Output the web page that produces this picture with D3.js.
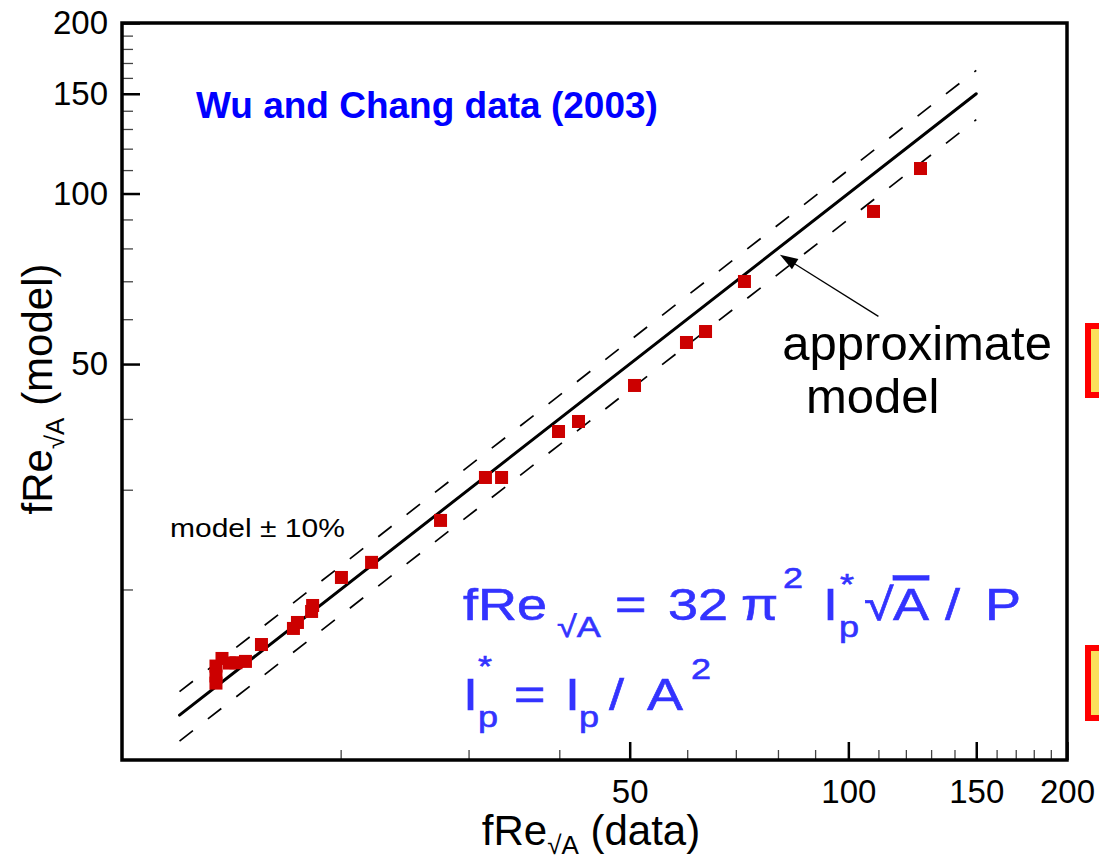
<!DOCTYPE html>
<html>
<head>
<meta charset="utf-8">
<script src="https://cdn.jsdelivr.net/npm/d3@7"></script>
<style>
  body { margin: 0; background: #fff; }
  svg { display: block; }
  text { font-family: "Liberation Sans", Arial, Helvetica, sans-serif; }
</style>
</head>
<body>
<svg id="chart" width="1099" height="861"></svg>
<script>
// fRe (data) vs fRe (model)
const dataX = [13.47, 13.47, 13.47, 13.73, 14.05, 14.35, 14.79, 15.56, 17.22, 17.44, 18.24, 18.30,
               20.05, 22.06, 27.45, 31.65, 33.31, 39.90, 42.51, 50.77, 59.86, 63.59, 71.94, 108.3, 125.7]
const dataY = [14.65, 14.07, 13.67, 15.11, 14.83, 14.85, 14.93, 15.99, 17.07, 17.49, 18.29, 18.74,
               21.00, 22.33, 26.48, 31.53, 31.53, 38.01, 39.59, 45.83, 54.58, 57.07, 69.94, 92.97, 110.7]
const modelX = [12, 150]
const band = 0.10
const majorTicks = [50, 100, 150, 200]
const minorTicks = [20, 30, 40, 60, 70, 80, 90, 110, 120, 130, 140, 160, 170, 180, 190]
const arrowFrom = [110, 60.7]
const arrowTo = [80.5, 78]

const svg = d3.select("#chart")
const plot = {left: 122, right: 1067, top: 23, bottom: 760}

const x = d3.scaleLog().domain([10, 200]).range([plot.left, plot.right])
const y = d3.scaleLog().domain([10, 200]).range([plot.bottom, plot.top])

// slide decoration at the right edge (cut off boxes)
svg.append("rect").attr("x", 1088).attr("y", 326).attr("width", 40).attr("height", 69)
  .attr("fill", "#fbe05c").attr("stroke", "#f00").attr("stroke-width", 6)
svg.append("rect").attr("x", 1088).attr("y", 648).attr("width", 40).attr("height", 70)
  .attr("fill", "#fbe05c").attr("stroke", "#f00").attr("stroke-width", 6)

// minor ticks
svg.append("g").attr("transform", `translate(0,${plot.bottom})`)
  .call(d3.axisBottom(x).tickValues(minorTicks).tickSize(-10).tickFormat(""))
  .call(g => g.select(".domain").remove())
  .call(g => g.selectAll("line").attr("stroke", "#444").attr("stroke-width", 1.3))
svg.append("g").attr("transform", `translate(${plot.left},0)`)
  .call(d3.axisLeft(y).tickValues(minorTicks).tickSize(-11).tickFormat(""))
  .call(g => g.select(".domain").remove())
  .call(g => g.selectAll("line").attr("stroke", "#444").attr("stroke-width", 1.3))

// major ticks + labels
svg.append("g").attr("transform", `translate(0,${plot.bottom})`)
  .call(d3.axisBottom(x).tickValues(majorTicks).tickSize(-18).tickPadding(20).tickFormat(d3.format("d")))
  .call(g => g.select(".domain").remove())
  .call(g => g.selectAll("line").attr("stroke", "#000").attr("stroke-width", 2.5))
  .call(g => g.selectAll("text").attr("font-size", 33).attr("fill", "#000"))
svg.append("g").attr("transform", `translate(${plot.left},0)`)
  .call(d3.axisLeft(y).tickValues(majorTicks).tickSize(-18).tickPadding(14).tickFormat(d3.format("d")))
  .call(g => g.select(".domain").remove())
  .call(g => g.selectAll("line").attr("stroke", "#000").attr("stroke-width", 2.5))
  .call(g => g.selectAll("text").attr("font-size", 33).attr("fill", "#000"))

// frame
svg.append("rect").attr("x", plot.left).attr("y", plot.top)
  .attr("width", plot.right - plot.left).attr("height", plot.bottom - plot.top)
  .attr("fill", "none").attr("stroke", "#000").attr("stroke-width", 3.5)

const line = d3.line().x(d => x(d[0])).y(d => y(d[1]))

// model and +-10% band
svg.append("path").datum(modelX.map(v => [v, v * (1 + band)]))
  .attr("d", line).attr("stroke", "#000").attr("stroke-width", 1.7)
  .attr("stroke-dasharray", "17,19").attr("fill", "none")
svg.append("path").datum(modelX.map(v => [v, v * (1 - band)]))
  .attr("d", line).attr("stroke", "#000").attr("stroke-width", 1.7)
  .attr("stroke-dasharray", "17,19").attr("fill", "none")
svg.append("path").datum(modelX.map(v => [v, v]))
  .attr("d", line).attr("stroke", "#000").attr("stroke-width", 3)
  .attr("stroke-linecap", "round").attr("fill", "none")

// data points
const sq = 13
svg.append("g").selectAll("rect").data(dataX.map((d, i) => [d, dataY[i]]))
  .join("rect")
  .attr("x", d => x(d[0]) - sq / 2).attr("y", d => y(d[1]) - sq / 2)
  .attr("width", sq).attr("height", sq).attr("fill", "#cc0000")

// arrow to the model line
const ax0 = x(arrowFrom[0]), ay0 = y(arrowFrom[1]), ax1 = x(arrowTo[0]), ay1 = y(arrowTo[1])
const ang = Math.atan2(ay1 - ay0, ax1 - ax0)
const hl = 18, hw = 6
svg.append("line").attr("x1", ax0).attr("y1", ay0)
  .attr("x2", ax1 - Math.cos(ang) * hl * 0.8).attr("y2", ay1 - Math.sin(ang) * hl * 0.8)
  .attr("stroke", "#000").attr("stroke-width", 1.3)
const bx = ax1 - Math.cos(ang) * hl, by = ay1 - Math.sin(ang) * hl
svg.append("polygon")
  .attr("points", [
    [ax1, ay1],
    [bx + Math.sin(ang) * hw, by - Math.cos(ang) * hw],
    [bx - Math.sin(ang) * hw, by + Math.cos(ang) * hw]
  ].map(p => p.join(",")).join(" "))
  .attr("fill", "#000")

// axis titles
const xt = svg.append("text").attr("x", 591).attr("y", 845)
  .attr("text-anchor", "middle").attr("font-size", 42).attr("fill", "#000")
xt.append("tspan").text("fRe")
xt.append("tspan").attr("font-size", 26).attr("dy", 9).text("√A")
xt.append("tspan").attr("dy", -9).text(" (data)")

const yt = svg.append("text").attr("transform", "translate(52,389) rotate(-90)")
  .attr("text-anchor", "middle").attr("font-size", 42).attr("fill", "#000")
yt.append("tspan").text("fRe")
yt.append("tspan").attr("font-size", 26).attr("dy", 12).text("√A")
yt.append("tspan").attr("dy", -12).text(" (model)")

// annotations
svg.append("text").attr("x", 196).attr("y", 118)
  .attr("font-size", 37).attr("font-weight", "bold").attr("fill", "#0000ff")
  .text("Wu and Chang data (2003)")

svg.append("text").attr("transform", "translate(170,537) scale(1.2,1)")
  .attr("font-size", 25).attr("fill", "#000").text("model ± 10%")

svg.append("text").attr("x", 1052).attr("y", 360).attr("text-anchor", "end")
  .attr("font-size", 49).attr("fill", "#000").text("approximate")
svg.append("text").attr("x", 806).attr("y", 413)
  .attr("font-size", 49).attr("fill", "#000").text("model")

// formula, pieces laid out like the slide
const formula = [
  ["fRe", 463, 620, 45], ["√A", 557, 637, 30], ["=", 615, 620, 45], ["32", 668, 620, 45],
  ["π", 741, 620, 45], ["2", 783, 588, 30], ["I", 823, 620, 45], ["*", 840, 594, 30],
  ["p", 839, 637, 30], ["√", 864, 620, 45], ["A", 893, 620, 45, true], ["/", 945, 620, 45],
  ["P", 985, 620, 45],
  ["I", 463, 710, 45], ["*", 478, 676, 30], ["p", 478, 727, 30], ["=", 514, 710, 45],
  ["I", 565, 710, 45], ["p", 579, 727, 30], ["/", 609, 710, 45], ["A", 647, 710, 45],
  ["2", 691, 679, 30]
]
svg.append("g").selectAll("text").data(formula).join("text")
  .attr("transform", d => `translate(${d[1]},${d[2]}) scale(1.2,1)`)
  .attr("font-size", d => d[3]).attr("fill", "#3333ff")
  .attr("stroke", "#3333ff").attr("stroke-width", 0.6)
  .style("text-decoration", d => d[4] ? "overline" : null)
  .text(d => d[0])
</script>
</body>
</html>
